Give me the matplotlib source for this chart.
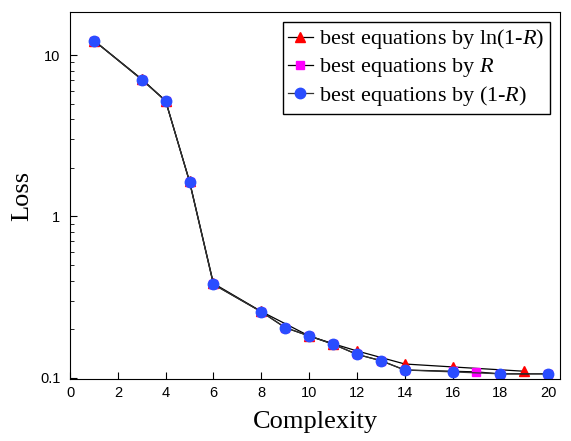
import matplotlib
matplotlib.use("Agg")
import matplotlib.pyplot as plt
from matplotlib.ticker import FixedLocator, FixedFormatter, LogLocator, NullFormatter

# complexity / loss for each criterion
x_ln = [1, 3, 4, 5, 6, 8, 10, 11, 12, 14, 16, 19]
y_ln = [12.3, 7.1, 5.2, 1.65, 0.385, 0.258, 0.182, 0.163, 0.147, 0.122, 0.117, 0.110]

x_r = [1, 3, 4, 5, 6, 8, 9, 10, 11, 12, 13, 14, 16, 17, 18, 20]
y_r = [12.3, 7.05, 5.2, 1.64, 0.38, 0.257, 0.205, 0.182, 0.162, 0.140, 0.128, 0.112, 0.110, 0.109, 0.106, 0.106]

x_1r = [1, 3, 4, 5, 6, 8, 9, 10, 11, 12, 13, 14, 16, 18, 20]
y_1r = [12.3, 7.05, 5.2, 1.64, 0.38, 0.257, 0.205, 0.182, 0.162, 0.140, 0.128, 0.112, 0.109, 0.106, 0.106]

labels = ["best equations by ln(1-$R$)", "best equations by $R$", "best equations by (1-$R$)"]

plt.rcParams["mathtext.fontset"] = "custom"
plt.rcParams["mathtext.rm"] = "Liberation Serif"
plt.rcParams["mathtext.it"] = "Liberation Serif:italic"

fig = plt.figure(figsize=(5.71, 4.41), dpi=100)
ax = fig.add_axes([0.1226, 0.1406, 0.8584, 0.8324])

ax.plot(x_ln, y_ln, color="black", lw=0.9, marker="^", ms=7.5, mfc="red", mec="red", label=labels[0])
ax.plot(x_r, y_r, color="black", lw=0.9, marker="s", ms=6, mfc="magenta", mec="magenta", label=labels[1])
ax.plot(x_1r, y_1r, color="#333333", lw=0.9, marker="o", ms=7.5, mfc="#2a4dff", mec="#2a4dff", label=labels[2])

ax.set_yscale("log")
ax.set_ylim(0.0985, 18.5)
ax.set_xlim(0, 20.5)

ax.yaxis.set_major_locator(FixedLocator([0.1, 1, 10]))
ax.yaxis.set_major_formatter(FixedFormatter(["0.1", "1", "10"]))
ax.yaxis.set_minor_locator(LogLocator(base=10, subs=[2, 3, 4, 5, 6, 7, 8, 9]))
ax.yaxis.set_minor_formatter(NullFormatter())
ax.set_xticks(range(0, 21, 2))

ax.tick_params(axis="both", which="both", direction="in", labelsize=10.5, labelfontfamily="Liberation Sans")
ax.tick_params(axis="both", which="major", length=5)
ax.tick_params(axis="y", which="minor", length=3)
ax.tick_params(axis="x", pad=5)
ax.tick_params(axis="y", pad=7)

ax.set_xlabel("Complexity", fontsize=19, family="Liberation Serif", labelpad=8)
ax.set_ylabel("Loss", fontsize=19, family="Liberation Serif", labelpad=5)

leg = ax.legend(loc="upper right", prop={"family": "Liberation Serif", "size": 16},
                fancybox=False, edgecolor="black", handlelength=1.1, handletextpad=0.3,
                labelspacing=0.22, borderpad=0.25, borderaxespad=0.45, framealpha=1)
leg.get_frame().set_linewidth(1.0)

fig.savefig("out.png", dpi=100)
